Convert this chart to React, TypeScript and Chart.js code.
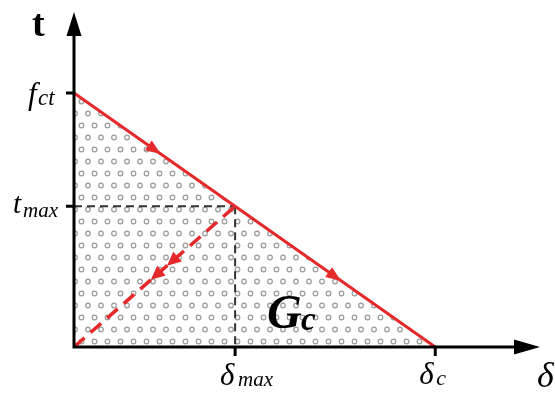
import React, { useEffect, useRef } from "react";
import { Chart, registerables } from "chart.js";

Chart.register(...registerables);

// Values (normalised units)
const deltaC = 1.0; // δc : x where the softening line reaches zero
const deltaMax = 0.446; // δmax
const fct = 1.0; // f_ct : peak traction
const tMax = 0.554; // t_max
const xAxisMax = 1.29;
const yAxisMax = 1.319;

const softeningLine = [
  { x: 0, y: fct },
  { x: deltaC, y: 0 },
];
const unloadLine = [
  { x: 0, y: 0 },
  { x: deltaMax, y: tMax },
];
const guideH = [
  { x: 0, y: tMax },
  { x: deltaMax, y: tMax },
];
const guideV = [
  { x: deltaMax, y: tMax },
  { x: deltaMax, y: 0 },
];
const solidArrowFractions = [0.224, 0.723];
const dashedArrowFractions = [0.61, 0.51];

const RED = "#e5282a";

function makePattern(): CanvasPattern | string {
  const c = document.createElement("canvas");
  c.width = 13;
  c.height = 24;
  const g = c.getContext("2d");
  if (!g) return "#eee";
  g.fillStyle = "#ffffff";
  g.fillRect(0, 0, 13, 24);
  g.strokeStyle = "#9a9a9a";
  g.lineWidth = 1.2;
  const pts = [
    [3.5, 5.5],
    [10, 17.5],
  ];
  for (const [x, y] of pts) {
    g.beginPath();
    g.arc(x, y, 2.3, 0, Math.PI * 2);
    g.stroke();
  }
  const p = g.createPattern(c, "repeat");
  return p || "#eee";
}

function arrowHead(
  ctx: CanvasRenderingContext2D,
  tipX: number,
  tipY: number,
  angle: number,
  len: number,
  half: number,
  color: string
) {
  ctx.save();
  ctx.translate(tipX, tipY);
  ctx.rotate(angle);
  ctx.fillStyle = color;
  ctx.beginPath();
  ctx.moveTo(0, 0);
  ctx.lineTo(-len, -half);
  ctx.lineTo(-len, half);
  ctx.closePath();
  ctx.fill();
  ctx.restore();
}

const decorPlugin = {
  id: "decor",
  afterDatasetsDraw(chart: any) {
    const ctx: CanvasRenderingContext2D = chart.ctx;
    const xs = chart.scales.x;
    const ys = chart.scales.y;
    const area = chart.chartArea;
    const x0 = xs.getPixelForValue(0);
    const y0 = ys.getPixelForValue(0);

    // arrows on the softening line
    const sx1 = xs.getPixelForValue(softeningLine[0].x);
    const sy1 = ys.getPixelForValue(softeningLine[0].y);
    const sx2 = xs.getPixelForValue(softeningLine[1].x);
    const sy2 = ys.getPixelForValue(softeningLine[1].y);
    const ang = Math.atan2(sy2 - sy1, sx2 - sx1);
    for (const f of solidArrowFractions) {
      const cx = sx1 + (sx2 - sx1) * f + Math.cos(ang) * 7;
      const cy = sy1 + (sy2 - sy1) * f + Math.sin(ang) * 7;
      arrowHead(ctx, cx, cy, ang, 15, 6, RED);
    }
    // arrows on the unloading line (pointing to origin)
    const ux1 = xs.getPixelForValue(unloadLine[1].x);
    const uy1 = ys.getPixelForValue(unloadLine[1].y);
    const ux2 = xs.getPixelForValue(unloadLine[0].x);
    const uy2 = ys.getPixelForValue(unloadLine[0].y);
    const ang2 = Math.atan2(uy2 - uy1, ux2 - ux1);
    for (const f of dashedArrowFractions) {
      const px = ux2 + (ux1 - ux2) * f + Math.cos(ang2) * 7;
      const py = uy2 + (uy1 - uy2) * f + Math.sin(ang2) * 7;
      arrowHead(ctx, px, py, ang2, 14, 6.5, RED);
    }

    // axes
    ctx.save();
    ctx.strokeStyle = "#000";
    ctx.lineWidth = 3;
    ctx.beginPath();
    ctx.moveTo(x0, y0 + 1.5);
    ctx.lineTo(x0, area.top + 18);
    ctx.moveTo(x0 - 1.5, y0);
    ctx.lineTo(area.right - 18, y0);
    ctx.stroke();
    arrowHead(ctx, x0, area.top, -Math.PI / 2, 24, 7.5, "#000");
    arrowHead(ctx, area.right, y0, 0, 26, 7.5, "#000");

    // ticks
    ctx.lineWidth = 3;
    ctx.beginPath();
    for (const v of [fct, tMax]) {
      const py = ys.getPixelForValue(v);
      ctx.moveTo(x0 - 8, py);
      ctx.lineTo(x0, py);
    }
    for (const v of [deltaMax, deltaC]) {
      const px = xs.getPixelForValue(v);
      ctx.moveTo(px, y0);
      ctx.lineTo(px, y0 + 9);
    }
    ctx.stroke();

    // labels
    ctx.fillStyle = "#000";
    ctx.textBaseline = "alphabetic";
    const serif = '"Liberation Serif", "DejaVu Serif", serif';
    ctx.textAlign = "left";
    // axis title t
    ctx.font = `bold 38px ${serif}`;
    ctx.fillText("t", x0 - 42, area.top + 24);
    // f_ct
    const fy = ys.getPixelForValue(fct);
    ctx.font = `italic 31px ${serif}`;
    ctx.fillText("f", x0 - 46, fy + 11);
    ctx.font = `italic 23px ${serif}`;
    ctx.fillText("ct", x0 - 36, fy + 12);
    // t_max
    const ty = ys.getPixelForValue(tMax);
    ctx.font = `italic 29px ${serif}`;
    ctx.fillText("t", x0 - 61, ty + 7);
    ctx.font = `italic 21px ${serif}`;
    ctx.fillText("max", x0 - 51, ty + 11);
    // δmax
    const dmx = xs.getPixelForValue(deltaMax);
    ctx.font = `italic 31px ${serif}`;
    ctx.fillText("δ", dmx - 15, y0 + 38);
    ctx.font = `italic 21px ${serif}`;
    ctx.fillText("max", dmx + 3, y0 + 39);
    // δc
    const dcx = xs.getPixelForValue(deltaC);
    ctx.font = `italic 31px ${serif}`;
    ctx.fillText("δ", dcx - 16, y0 + 37);
    ctx.font = `italic 22px ${serif}`;
    ctx.fillText("c", dcx + 1, y0 + 38);
    // axis title δ
    ctx.font = `italic 36px ${serif}`;
    ctx.fillText("δ", area.right - 3, y0 + 40);
    // Gc
    ctx.font = `bold italic 48px ${serif}`;
    ctx.fillText("G", 267, y0 - 19);
    ctx.font = `bold italic 33px ${serif}`;
    ctx.fillText("c", 301, y0 - 17);
    ctx.restore();
  },
};

export default function App() {
  const ref = useRef<HTMLCanvasElement | null>(null);
  useEffect(() => {
    if (!ref.current) return;
    const pattern = makePattern();
    const chart = new Chart(ref.current, {
      type: "scatter",
      data: {
        datasets: [
          {
            data: softeningLine,
            showLine: true,
            borderColor: RED,
            borderWidth: 3,
            backgroundColor: pattern as any,
            fill: "origin",
            pointRadius: 0,
            clip: false,
          } as any,
          {
            data: unloadLine,
            showLine: true,
            borderColor: RED,
            borderWidth: 3.5,
            borderDash: [14, 8],
            pointRadius: 0,
            fill: false,
            clip: false,
          } as any,
          {
            data: guideH,
            showLine: true,
            borderColor: "#333",
            borderWidth: 2,
            borderDash: [8, 5],
            pointRadius: 0,
            fill: false,
            clip: false,
          } as any,
          {
            data: guideV,
            showLine: true,
            borderColor: "#333",
            borderWidth: 2,
            borderDash: [8, 5],
            pointRadius: 0,
            fill: false,
            clip: false,
          } as any,
        ],
      },
      options: {
        animation: false,
        responsive: false,
        devicePixelRatio: 1,
        layout: { padding: { left: 74, right: 15, top: 12, bottom: 50 } },
        scales: {
          x: { type: "linear", min: 0, max: xAxisMax, display: false },
          y: { type: "linear", min: 0, max: yAxisMax, display: false },
        },
        plugins: {
          legend: { display: false },
          tooltip: { enabled: false },
          title: { display: false },
          filler: { drawTime: "beforeDatasetsDraw" },
        } as any,
      },
      plugins: [decorPlugin],
    });
    return () => chart.destroy();
  }, []);
  return (
    <div style={{ position: "absolute", left: 0, top: 0, width: 555, height: 397, background: "#fff" }}>
      <canvas ref={ref} width={555} height={397} />
    </div>
  );
}
